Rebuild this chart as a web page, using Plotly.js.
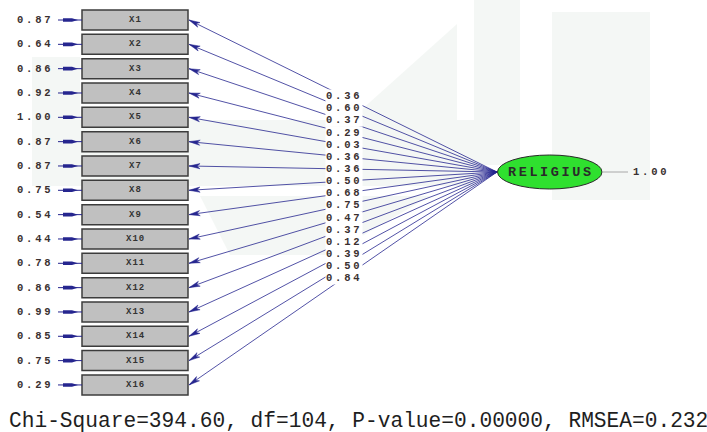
<!DOCTYPE html>
<html>
<head>
<meta charset="utf-8">
<script src="https://cdn.plot.ly/plotly-3.0.1.min.js"></script>
<style>html,body{margin:0;padding:0;background:#fff;}#chart{width:707px;height:432px;}</style>
</head>
<body>
<div id="chart"></div>
<script>
// ---- data ----
const indicators = ['X1','X2','X3','X4','X5','X6','X7','X8','X9','X10','X11','X12','X13','X14','X15','X16'];
const loadings = [0.36,0.60,0.37,0.29,0.03,0.36,0.36,0.50,0.68,0.75,0.47,0.37,0.12,0.39,0.50,0.84];
const errorVariances = [0.87,0.64,0.86,0.92,1.00,0.87,0.87,0.75,0.54,0.44,0.78,0.86,0.99,0.85,0.75,0.29];
const latentName = 'RELIGIUS';
const latentVariance = 1.00;
const fitText = 'Chi-Square=394.60, df=104, P-value=0.00000, RMSEA=0.232';

// ---- layout geometry ----
const boxLeft = 82, boxRight = 188, boxH = 20, firstY = 20, stepY = 24.33;
const apex = [497, 172];
const ell = {x0: 497.5, x1: 602, y0: 155, y1: 189};
const navy = '#26268f';
const txtCol = '#3a3030';
const mono = 'Liberation Mono, DejaVu Sans Mono, monospace';
const yc = i => firstY + i * stepY;
const sp = (t, s) => '<span style="letter-spacing:' + s + 'px">' + t + '</span>';

const shapes = [];
const annotations = [];

// faint background watermark
const wm = 'rgba(205,218,208,0.22)';
const polys = [
  [[32,57],[80,57],[80,120],[32,120]],
  [[32,120],[474,120],[474,186],[32,186]],
  [[457,24],[457,120],[350,120]],
  [[474,0],[520,0],[520,165],[474,165]],
  [[552,12],[650,12],[650,200],[552,200]],
  [[200,196],[430,196],[330,255],[230,255]]
];
polys.forEach(p => shapes.push({type:'path', xref:'x', yref:'y', layer:'below',
  path: 'M' + p.map(q => q[0] + ',' + q[1]).join('L') + 'Z', fillcolor: wm, line:{width:0}}));

indicators.forEach((name, i) => {
  const y = yc(i);
  shapes.push({type:'line', xref:'x', yref:'y', x0: apex[0], y0: apex[1], x1: boxRight + 1, y1: y,
    line:{color: navy, width: 0.8}});
  const dx = boxRight + 1 - apex[0], dyy = y - apex[1];
  const L = Math.hypot(dx, dyy), ux = dx / L, uy = dyy / L, nx = -uy, ny = ux;
  const tx = boxRight + 1, ty = y;
  const bx = tx - 11 * ux, by = ty - 11 * uy;
  const kx = tx - 8 * ux, ky = ty - 8 * uy;
  shapes.push({type:'path', xref:'x', yref:'y',
    path: 'M' + tx + ',' + ty + 'L' + (bx + 2.6 * nx) + ',' + (by + 2.6 * ny) + 'L' + kx + ',' + ky +
          'L' + (bx - 2.6 * nx) + ',' + (by - 2.6 * ny) + 'Z',
    fillcolor: navy, line:{color: navy, width: 0.5}});
  shapes.push({type:'rect', xref:'x', yref:'y', x0: boxLeft, x1: boxRight, y0: y - boxH / 2, y1: y + boxH / 2,
    fillcolor:'#c0c0c0', line:{color:'#3c3c3c', width:1.5}});
  annotations.push({xref:'x', yref:'y', x: (boxLeft + boxRight) / 2, y: y, text: sp(name, 1), showarrow:false,
    font:{family: mono, size: 9, color:'#333', weight: 'bold'}});
  shapes.push({type:'line', xref:'x', yref:'y', x0: 58, x1: boxLeft, y0: y, y1: y, line:{color: navy, width: 1}});
  shapes.push({type:'path', xref:'x', yref:'y',
    path: 'M63,' + (y - 1.8) + 'L72,' + (y - 1.8) + 'L78,' + y + 'L72,' + (y + 1.8) + 'L63,' + (y + 1.8) + 'Z',
    fillcolor: navy, line:{width:0}});
  annotations.push({xref:'x', yref:'y', x: 55, y: y, xanchor:'right', text: sp(errorVariances[i].toFixed(2), 2.8),
    showarrow:false, font:{family: mono, size: 10.5, color: txtCol, weight:'bold'}});
  annotations.push({xref:'x', yref:'y', x: (apex[0] + boxRight) / 2 + 1, y: (apex[1] + y) / 2,
    text: sp(loadings[i].toFixed(2), 2.8), showarrow:false, bgcolor:'white', borderpad:0,
    font:{family: mono, size: 10.5, color: txtCol, weight:'bold'}});
});

shapes.push({type:'circle', xref:'x', yref:'y', x0: ell.x0, x1: ell.x1, y0: ell.y0, y1: ell.y1,
  fillcolor:'#2fe02f', line:{color:'#2a2a2a', width:1}});
annotations.push({xref:'x', yref:'y', x: (ell.x0 + ell.x1) / 2 + 1, y: (ell.y0 + ell.y1) / 2, text: sp(latentName, 2.6),
  showarrow:false, font:{family: mono, size: 13.5, color:'#2a2a2a', weight:'bold'}});
shapes.push({type:'line', xref:'x', yref:'y', x0: ell.x1, x1: 628, y0: 172, y1: 172, line:{color:'#a8a8a8', width:1}});
annotations.push({xref:'x', yref:'y', x: 631, y: 172, xanchor:'left', text: sp(latentVariance.toFixed(2), 2.8),
  showarrow:false, font:{family: mono, size: 10.5, color: txtCol, weight:'bold'}});

annotations.push({xref:'x', yref:'y', x: 7, y: 421, xanchor:'left', text: fitText, showarrow:false,
  font:{family: mono, size: 21.2, color:'#1e1e1e'}});

const layout = {
  width: 707, height: 432,
  margin:{l:0, r:0, t:0, b:0},
  paper_bgcolor:'white', plot_bgcolor:'white',
  xaxis:{range:[0,707], visible:false, fixedrange:true},
  yaxis:{range:[432,0], visible:false, fixedrange:true},
  showlegend:false,
  shapes: shapes,
  annotations: annotations
};
Plotly.newPlot('chart', [{x:[], y:[], type:'scatter', mode:'markers', hoverinfo:'skip'}], layout,
  {staticPlot:true, displayModeBar:false});
</script>
</body>
</html>
